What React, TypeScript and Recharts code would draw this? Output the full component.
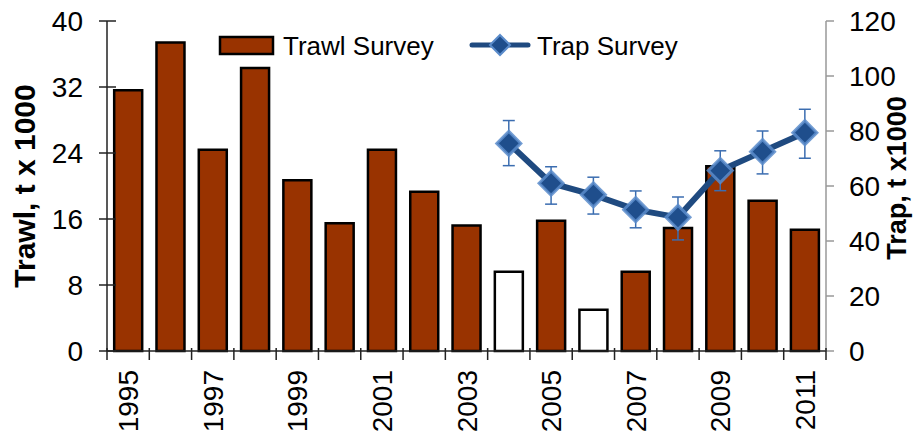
import React from 'react';
import { ComposedChart, Bar, Line, XAxis, YAxis, Cell, ErrorBar, Legend } from 'recharts';

const years = ['1995', '1996', '1997', '1998', '1999', '2000', '2001', '2002', '2003', '2004', '2005', '2006', '2007', '2008', '2009', '2010', '2011'];
const trawl = [31.6, 37.4, 24.4, 34.3, 20.7, 15.5, 24.4, 19.3, 15.2, 9.6, 15.8, 5.0, 9.6, 14.9, 22.4, 18.2, 14.7];
const hollowYears = ['2004', '2006'];
const trap: (number | null)[] = [null, null, null, null, null, null, null, null, null, 75.5, 61.0, 56.8, 51.4, 48.6, 65.6, 72.5, 79.4];
const trapErrLow = [0, 0, 0, 0, 0, 0, 0, 0, 0, 8.1, 7.6, 7.0, 6.6, 8.2, 7.3, 8.1, 9.3];
const trapErrHigh = [0, 0, 0, 0, 0, 0, 0, 0, 0, 8.3, 6.0, 6.4, 6.8, 7.4, 7.2, 7.5, 8.5];
const leftTicks = [0, 8, 16, 24, 32, 40];
const rightTicks = [0, 20, 40, 60, 80, 100, 120];

const data = years.map((y, i) => ({
  year: y,
  trawl: trawl[i],
  trap: trap[i],
  trapErr: trap[i] == null ? null : [trapErrLow[i], trapErrHigh[i]],
}));

const FONT = '"Liberation Sans", Arial, sans-serif';
const BAR_FILL = '#993300';
const LINE_COLOR = '#1F4A80';
const MARKER_FILL = '#1F4E8C';
const MARKER_EDGE = '#5B8CCB';
const ERR_COLOR = '#3B6DB0';

const XTick = (props: any) => {
  const { x, y, payload, index } = props;
  const half = payload && typeof payload.offset === 'number' && payload.offset > 0 ? payload.offset : 21.15;
  const axisY = y - 19;
  const isLast = index === years.length - 1;
  return (
    <g>
      <line x1={x - half} x2={x - half} y1={axisY - 3} y2={axisY + 9} stroke="#222" strokeWidth={1.5} />
      {isLast && <line x1={x + half} x2={x + half} y1={axisY - 3} y2={axisY + 9} stroke="#222" strokeWidth={1.5} />}
      {index % 2 === 0 && (
        <text
          transform={`translate(${x + 10},${y}) rotate(-90)`}
          textAnchor="end"
          fontSize={28}
          fontFamily={FONT}
          fill="#000"
        >
          {payload.value}
        </text>
      )}
    </g>
  );
};

const LeftTick = (props: any) => {
  const { x, y, payload } = props;
  return (
    <g>
      <line x1={x + 16} x2={x + 33} y1={y} y2={y} stroke="#222" strokeWidth={1.5} />
      <text x={x} y={y} dy="0.36em" textAnchor="end" fontSize={28} fontFamily={FONT} fill="#000">
        {payload.value}
      </text>
    </g>
  );
};

const Diamond = (props: any) => {
  const { cx, cy, index } = props;
  if (cx == null || cy == null || props.value == null || (Array.isArray(props.value) && props.value[1] == null)) {
    return <g key={`d-${index}`} />;
  }
  const r = 12;
  return (
    <polygon
      key={`d-${index}`}
      points={`${cx},${cy - r} ${cx + r},${cy} ${cx},${cy + r} ${cx - r},${cy}`}
      fill={MARKER_FILL}
      stroke={MARKER_EDGE}
      strokeWidth={3}
      strokeOpacity={0.85}
    />
  );
};

const LegendContent = () => (
  <svg width={480} height={40} style={{ overflow: 'visible' }}>
    <rect x={5} y={12} width={53} height={17} fill={BAR_FILL} stroke="#000" strokeWidth={2.5} />
    <text x={68} y={30} fontSize={26} fontFamily={FONT} fill="#000">Trawl Survey</text>
    <line x1={257} x2={313} y1={20} y2={20} stroke={LINE_COLOR} strokeWidth={5} strokeLinecap="round" />
    <polygon points="285,10 295,20 285,30 275,20" fill={MARKER_FILL} stroke={MARKER_EDGE} strokeWidth={2} />
    <text x={322} y={30} fontSize={26} fontFamily={FONT} fill="#000">Trap Survey</text>
  </svg>
);

const LeftTitle = (props: any) => {
  const vb = props.viewBox || { x: 0, y: 21, width: 107, height: 330 };
  const cy = vb.y + vb.height / 2;
  return (
    <text
      transform={`translate(35,${cy}) rotate(-90)`}
      textAnchor="middle"
      fontSize={30}
      fontWeight="bold"
      fontFamily={FONT}
      fill="#000"
    >
      Trawl, t x 1000
    </text>
  );
};

const RightTitle = (props: any) => {
  const vb = props.viewBox || { x: 826, y: 21, width: 91, height: 330 };
  const cy = vb.y + vb.height / 2 - 8;
  return (
    <text
      transform={`translate(906,${cy}) rotate(-90)`}
      textAnchor="middle"
      fontSize={27}
      fontWeight="bold"
      fontFamily={FONT}
      fill="#000"
    >
      Trap, t x1000
    </text>
  );
};

export default function App() {
  return (
    <div style={{ position: 'absolute', left: 0, top: 0, width: 917, height: 435, background: '#fff' }}>
      <ComposedChart width={917} height={435} data={data} margin={{ top: 21, right: 0, bottom: 0, left: 0 }} barCategoryGap="17%">
        <XAxis
          dataKey="year"
          height={84}
          interval={0}
          tickLine={false}
          tickSize={9}
          tickMargin={10}
          axisLine={{ stroke: '#222', strokeWidth: 1.5 }}
          tick={<XTick />}
        />
        <YAxis
          yAxisId="left"
          orientation="left"
          width={107}
          domain={[0, 40]}
          ticks={leftTicks}
          interval={0}
          tickLine={false}
          tickSize={8}
          tickMargin={16}
          axisLine={{ stroke: '#222', strokeWidth: 1.5 }}
          tick={<LeftTick />}
          label={{ content: <LeftTitle /> }}
        />
        <YAxis
          yAxisId="right"
          orientation="right"
          width={91}
          domain={[0, 120]}
          ticks={rightTicks}
          interval={0}
          tickSize={8}
          tickMargin={15}
          axisLine={{ stroke: '#999', strokeWidth: 1.5 }}
          tickLine={{ stroke: '#999', strokeWidth: 1.5 }}
          tick={{ fill: '#000', fontSize: 28, fontFamily: FONT }}
          label={{ content: <RightTitle /> }}
        />
        <Legend
          verticalAlign="middle"
          align="center"
          layout="horizontal"
          wrapperStyle={{ top: 25, left: 215, width: 480, height: 40 }}
          content={<LegendContent />}
        />
        <Bar yAxisId="left" dataKey="trawl" stroke="#000" strokeWidth={2.5} isAnimationActive={false}>
          {data.map((d) => (
            <Cell key={d.year} fill={hollowYears.includes(d.year) ? '#FFFFFF' : BAR_FILL} />
          ))}
        </Bar>
        <Line
          yAxisId="right"
          dataKey="trap"
          stroke={LINE_COLOR}
          strokeWidth={6}
          dot={(p: any) => <Diamond {...p} />}
          activeDot={false}
          isAnimationActive={false}
        >
          <ErrorBar dataKey="trapErr" direction="y" width={6} stroke={ERR_COLOR} strokeWidth={1.5} isAnimationActive={false} />
        </Line>
      </ComposedChart>
    </div>
  );
}
